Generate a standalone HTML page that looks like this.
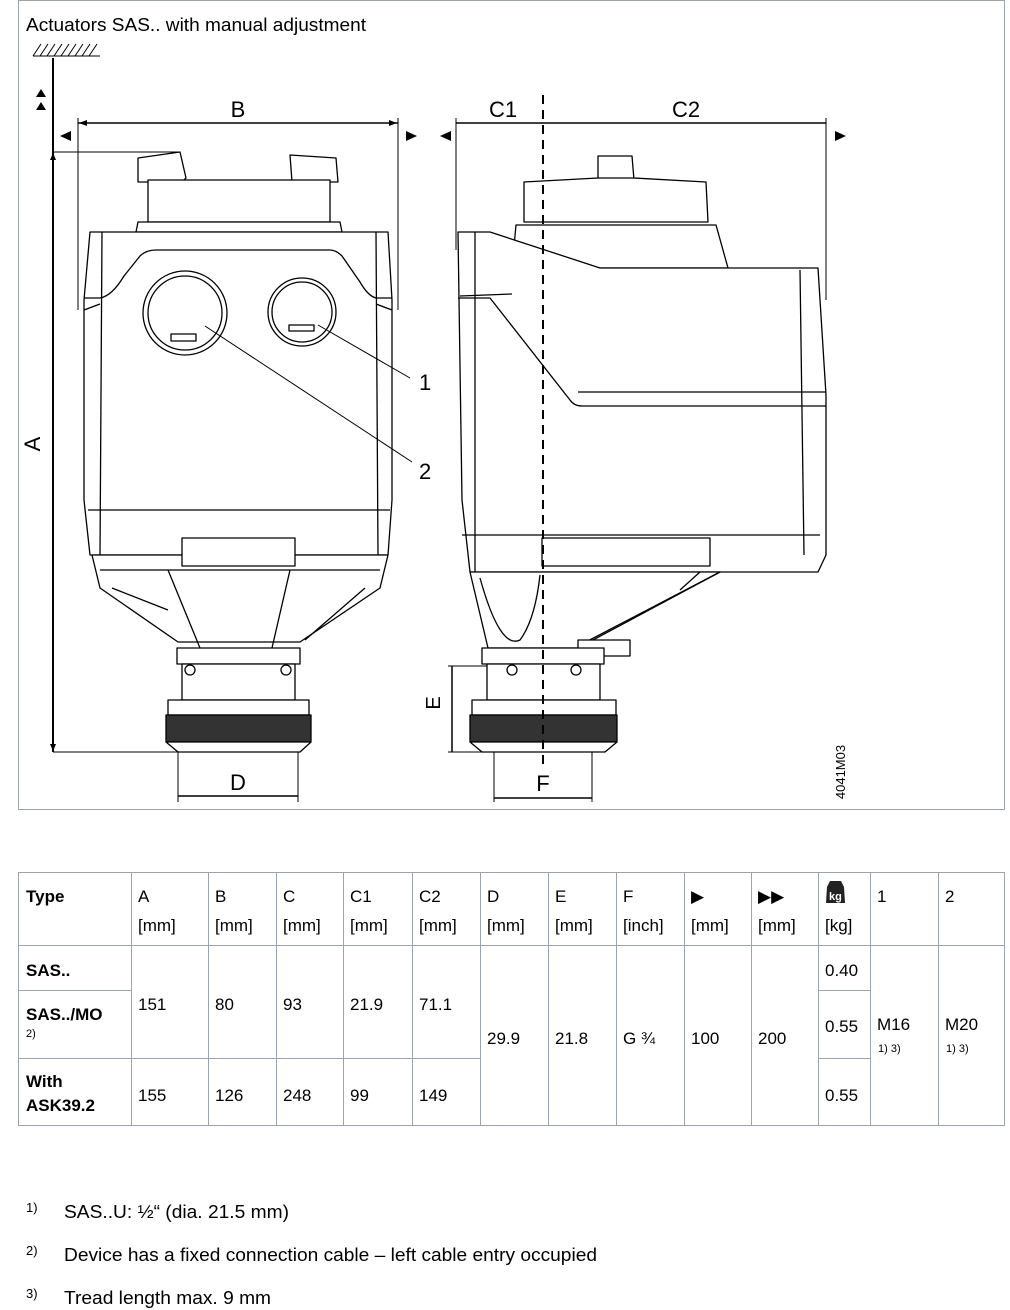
<!DOCTYPE html>
<html><head><meta charset="utf-8"><style>
html,body{margin:0;padding:0;background:#fff}
svg{display:block}
text{font-family:"Liberation Sans",sans-serif;fill:#000}
</style></head><body>
<svg width="1010" height="1310" viewBox="0 0 1010 1310" xmlns="http://www.w3.org/2000/svg">
<rect x="18.5" y="0.5" width="986" height="809" fill="none" stroke="#9aa4b0"/>
<text x="26" y="31" font-size="18" textLength="340" lengthAdjust="spacingAndGlyphs">Actuators SAS.. with manual adjustment</text>
<g stroke="#000" stroke-width="1">
<line x1="33" y1="56" x2="100" y2="56"/>
<path d="M33 56l8-12M40 56l8-12M47 56l8-12M54 56l8-12M61 56l8-12M68 56l8-12M75 56l8-12M82 56l8-12M89 56l8-12"/>
</g>
<polygon points="36,97 46,97 41,89" /><polygon points="36,110 46,110 41,102"/>
<g stroke="#000" fill="none">
<line x1="53" y1="58" x2="53" y2="752" stroke-width="2"/>
<line x1="53" y1="152" x2="180" y2="152"/>
<line x1="53" y1="752" x2="178" y2="752"/>
</g>
<polygon points="50,160 56,160 53,153"/><polygon points="50,744 56,744 53,751"/>
<text x="48" y="452" font-size="22" transform="rotate(-90 40 452)" text-anchor="middle">A</text>
<polygon points="60,136 71,131 71,141"/><polygon points="417,136 406,131 406,141"/>
<g stroke="#000" fill="none">
<line x1="78" y1="123" x2="398" y2="123" stroke-width="1.5"/>
<line x1="78" y1="118" x2="78" y2="310"/>
<line x1="398" y1="118" x2="398" y2="310"/>
</g>
<polygon points="79,123 87,120 87,126"/><polygon points="397,123 389,120 389,126"/>
<text x="238" y="117" font-size="22" text-anchor="middle">B</text>
<g stroke="#000" stroke-width="1.3" fill="#fff" stroke-linejoin="round">
<path d="M138 158 L180 152 L186 178 L182 182 L138 182 Z"/>
<path d="M290 155 L336 158 L338 182 L292 182 Z"/>
<path d="M148 180 L330 180 L330 222 L148 222 Z"/>
<path d="M138 222 L340 222 L342 232 L136 232 Z"/>
<path d="M90 232 L388 232 L392 300 L392 500 L388 555 L90 555 L84 500 L84 300 Z"/>
<line x1="102" y1="232" x2="100" y2="555"/>
<line x1="376" y1="232" x2="378" y2="555"/>
<line x1="88" y1="510" x2="390" y2="510"/>
<path d="M84 298 L100 298 Q112 296 124 276 L140 256 Q146 250 156 250 L330 250 Q336 250 342 256 L360 282 Q368 296 376 298 L392 298" fill="none"/>
<path d="M84 310 L100 304 M376 304 L392 310" fill="none"/>
<circle cx="185" cy="313" r="42"/><circle cx="185" cy="313" r="37"/>
<circle cx="302" cy="312" r="34"/><circle cx="302" cy="312" r="30"/>
<rect x="171" y="334" width="25" height="7"/>
<rect x="289" y="325" width="25" height="6"/>
<path d="M92 555 L388 555 L380 588 L300 642 L178 642 L100 588 Z"/>
<path d="M100 570 L380 570" fill="none"/>
<path d="M168 570 L200 648 M290 570 L272 648" fill="none"/>
<rect x="182" y="538" width="113" height="28"/>
<path d="M112 588 L168 610 M365 588 L305 640" fill="none"/>
<rect x="177" y="648" width="123" height="16"/>
<rect x="182" y="664" width="113" height="36"/>
<circle cx="190" cy="670" r="5"/><circle cx="286" cy="670" r="5"/>
<rect x="168" y="700" width="141" height="15"/>
<rect x="166" y="715" width="145" height="27" fill="#333"/>
<path d="M166 742 L311 742 L300 752 L178 752 Z"/>
</g>
<g stroke="#000" fill="none" stroke-width="1">
<line x1="205" y1="326" x2="412" y2="462"/>
<line x1="318" y1="325" x2="410" y2="378"/>
</g>
<text x="419" y="390" font-size="22">1</text>
<text x="419" y="479" font-size="22">2</text>
<g stroke="#000" fill="none">
<line x1="178" y1="752" x2="178" y2="802"/><line x1="298" y1="752" x2="298" y2="802"/>
<line x1="178" y1="796" x2="298" y2="796" stroke-width="1.5"/>
</g>
<text x="238" y="790" font-size="22" text-anchor="middle">D</text>

<polygon points="440,136 451,131 451,141"/><polygon points="846,136 835,131 835,141"/>
<g stroke="#000" fill="none">
<line x1="456" y1="123" x2="826" y2="123" stroke-width="1.5"/>
<line x1="456" y1="118" x2="456" y2="250"/>
<line x1="826" y1="118" x2="826" y2="300"/>
</g>
<text x="503" y="117" font-size="22" text-anchor="middle">C1</text>
<text x="686" y="117" font-size="22" text-anchor="middle">C2</text>
<g stroke="#000" stroke-width="1.3" fill="#fff" stroke-linejoin="round">
<path d="M598 156 L632 156 L634 180 L598 180 Z"/>
<path d="M524 182 L598 178 L634 178 L706 182 L708 222 L524 222 Z"/>
<path d="M516 225 L716 225 L728 268 L512 268 Z"/>
<path d="M458 232 L490 232 L600 268 L818 268 L826 395 L826 555 L818 572 L470 572 L462 500 Z"/>
<line x1="475" y1="232" x2="475" y2="572"/>
<line x1="800" y1="270" x2="804" y2="555"/>
<path d="M458 298 L490 298 L570 400 Q574 406 582 406 L826 406" fill="none"/>
<path d="M578 392 L826 392" fill="none"/>
<path d="M460 296 L512 294" fill="none"/>
<line x1="462" y1="535" x2="820" y2="535"/>
<rect x="542" y="538" width="168" height="28"/>
<path d="M470 572 L720 572 L578 648 L488 648 Z"/>
<path d="M480 578 Q500 650 520 640 Q535 620 540 575" fill="none"/>
<path d="M720 572 L580 645 M700 572 L680 590" fill="none"/>
<rect x="578" y="640" width="52" height="16"/>
<rect x="482" y="648" width="122" height="16"/>
<rect x="487" y="664" width="113" height="36"/>
<circle cx="512" cy="670" r="5"/><circle cx="576" cy="670" r="5"/>
<rect x="472" y="700" width="144" height="15"/>
<rect x="470" y="715" width="147" height="27" fill="#333"/>
<path d="M470 742 L617 742 L605 752 L482 752 Z"/>
</g>
<line x1="543" y1="95" x2="543" y2="765" stroke="#000" stroke-width="2" stroke-dasharray="9,6"/>
<g stroke="#000" fill="none">
<line x1="452" y1="666" x2="452" y2="752" stroke-width="1.5"/>
<line x1="448" y1="666" x2="487" y2="666"/><line x1="448" y1="752" x2="482" y2="752"/>
</g>
<text x="446" y="709" font-size="20" transform="rotate(-90 440 709)" text-anchor="middle">E</text>
<g stroke="#000" fill="none">
<line x1="494" y1="752" x2="494" y2="802"/><line x1="592" y1="752" x2="592" y2="802"/>
<line x1="494" y1="798" x2="592" y2="798" stroke-width="1.5"/>
</g>
<text x="543" y="791" font-size="22" text-anchor="middle">F</text>
<text x="845" y="772" font-size="13" transform="rotate(-90 845 772)" text-anchor="middle">4041M03</text>

<g stroke="#9aa4b0" stroke-width="1" fill="none">
<rect x="18.5" y="872.5" width="986" height="253"/>
<line x1="18" y1="945.5" x2="1004" y2="945.5"/>
<path d="M131.5 872V1126M208.5 872V1126M276.5 872V1126M343.5 872V1126M412.5 872V1126M480.5 872V1126M548.5 872V1126M616.5 872V1126M684.5 872V1126M751.5 872V1126M818.5 872V1126M870.5 872V1126M938.5 872V1126"/>
<path d="M18 990.5H131M818 990.5H870M18 1058.5H480M818 1058.5H870"/>
</g>
<g font-size="17">
<text x="26" y="902" font-weight="bold">Type</text>
<text x="138" y="902">A</text><text x="138" y="931">[mm]</text>
<text x="215" y="902">B</text><text x="215" y="931">[mm]</text>
<text x="283" y="902">C</text><text x="283" y="931">[mm]</text>
<text x="350" y="902">C1</text><text x="350" y="931">[mm]</text>
<text x="419" y="902">C2</text><text x="419" y="931">[mm]</text>
<text x="487" y="902">D</text><text x="487" y="931">[mm]</text>
<text x="555" y="902">E</text><text x="555" y="931">[mm]</text>
<text x="623" y="902">F</text><text x="623" y="931">[inch]</text>
<text x="691" y="902">▶</text><text x="691" y="931">[mm]</text>
<text x="758" y="902">▶▶</text><text x="758" y="931">[mm]</text>
<text x="825" y="931">[kg]</text>
<text x="877" y="902">1</text><text x="945" y="902">2</text>
<text x="26" y="976" font-weight="bold">SAS..</text>
<text x="26" y="1020" font-weight="bold">SAS../MO</text>
<text x="26" y="1087" font-weight="bold">With</text>
<text x="26" y="1111" font-weight="bold">ASK39.2</text>
<text x="138" y="1010">151</text><text x="215" y="1010">80</text><text x="283" y="1010">93</text><text x="350" y="1010">21.9</text><text x="419" y="1010">71.1</text>
<text x="138" y="1101">155</text><text x="215" y="1101">126</text><text x="283" y="1101">248</text><text x="350" y="1101">99</text><text x="419" y="1101">149</text>
<text x="487" y="1044">29.9</text><text x="555" y="1044">21.8</text><text x="623" y="1044">G ¾</text><text x="691" y="1044">100</text><text x="758" y="1044">200</text>
<text x="825" y="976">0.40</text><text x="825" y="1032">0.55</text><text x="825" y="1101">0.55</text>
<text x="877" y="1030">M16</text><text x="945" y="1030">M20</text>
</g>
<g font-size="11">
<text x="26" y="1037">2)</text><text x="878" y="1052">1) 3)</text><text x="946" y="1052">1) 3)</text>
</g>
<path d="M827 887 L830 881 L841 881 L844 887 L845 903 L826 903 Z" fill="#222"/>
<text x="829" y="900" font-size="11" style="fill:#fff" font-weight="bold">kg</text>
<g font-size="13"><text x="26" y="1212">1)</text><text x="26" y="1255">2)</text><text x="26" y="1298">3)</text></g>
<g font-size="18">
<text x="64" y="1218" textLength="225" lengthAdjust="spacingAndGlyphs">SAS..U: ½“ (dia. 21.5 mm)</text>
<text x="64" y="1261" textLength="533" lengthAdjust="spacingAndGlyphs">Device has a fixed connection cable – left cable entry occupied</text>
<text x="64" y="1304" textLength="207" lengthAdjust="spacingAndGlyphs">Tread length max. 9 mm</text>
</g>
</svg>
</body></html>
